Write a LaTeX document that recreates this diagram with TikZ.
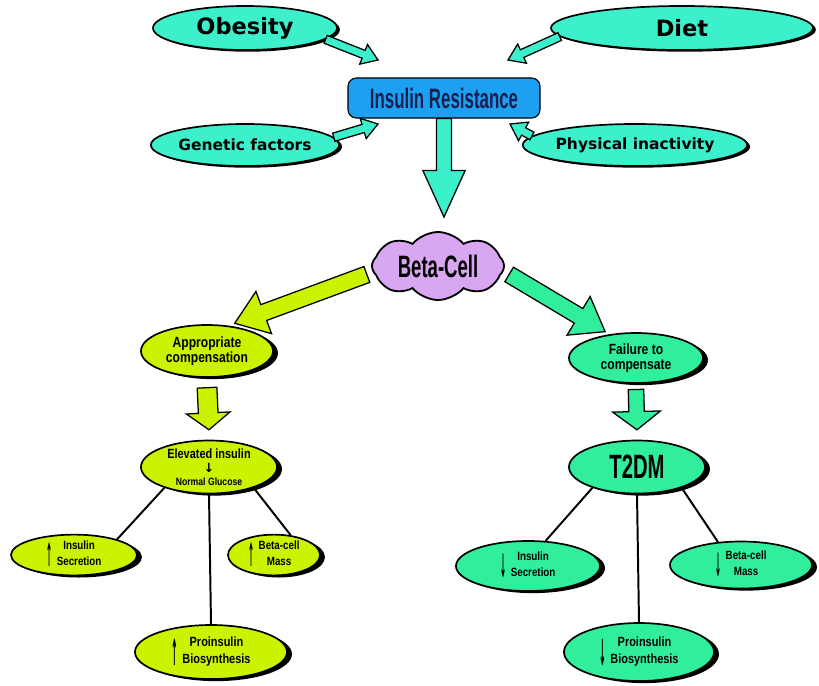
\documentclass[tikz,border=0pt]{standalone}
\usepackage{fontspec}
\usepackage{graphicx}
\setmainfont{Liberation Sans}
\newfontfamily\widefont{DejaVu Sans}
\newfontfamily\condfont[FakeStretch=0.6]{Liberation Sans}
\newfontfamily\semicondfont[FakeStretch=0.82]{Liberation Sans}
\usepackage{tikz}
\usetikzlibrary{shapes.geometric, shapes.symbols, arrows.meta, positioning, calc, shadows}

\definecolor{aquafill}{HTML}{3CF0CC}
\definecolor{skyfill}{HTML}{1EA0F2}
\definecolor{navytext}{HTML}{1A2050}
\definecolor{lilacfill}{HTML}{D9A6F2}
\definecolor{limefill}{HTML}{CCF200}
\definecolor{mintfill}{HTML}{30EE9C}

% block arrow: from, to, shaft half width, head half width, head length, fill
\newcommand{\fatarrow}[6]{%
  \coordinate (fa-h) at ($(#2)!#5!(#1)$);
  \filldraw[fill=#6, draw=black, line width=0.9pt, line join=miter]
    ($(#1)!#3!90:(#2)$) -- ($(fa-h)!#3!90:(#2)$) -- ($(fa-h)!#4!90:(#2)$)
    -- (#2) -- ($(fa-h)!#4!-90:(#2)$) -- ($(fa-h)!#3!-90:(#2)$)
    -- ($(#1)!#3!-90:(#2)$) -- cycle;
}

% two-line label with a tall thin arrow in front
\newcommand{\arrownote}[3]{\raisebox{-1.4ex}{\scalebox{0.6}[2.7]{\widefont #1}}\kern3pt%
  \begin{tabular}{@{}c@{}}#2\\[2.5pt]#3\end{tabular}}

\begin{document}
\begin{tikzpicture}[
    x=0.025cm, y=-0.025cm,
    factor/.style={ellipse, draw, line width=1.2pt, fill=aquafill, inner sep=0pt,
                   font=\widefont\bfseries,
                   drop shadow={shadow xshift=2pt, shadow yshift=-1.2pt, opacity=1, fill=black}},
    resist/.style={draw, line width=0.8pt, rounded corners=6pt, fill=skyfill,
                   minimum width=4.8cm, minimum height=1cm, text=navytext,
                   font=\condfont\bfseries\fontsize{20}{20}\selectfont},
    stage/.style={ellipse, draw, line width=1.2pt, inner sep=0pt, align=center,
                  font=\semicondfont\bfseries,
                  drop shadow={shadow xshift=3.5pt, shadow yshift=-1.5pt, opacity=1, fill=black}},
    link/.style={line width=1.4pt}
]
\useasboundingbox (0,0) rectangle (819,685);

% risk factors
\node[factor, minimum width=4.6cm, minimum height=1.1cm,
      font=\widefont\bfseries\fontsize{16}{18}\selectfont] (obesity) at (245,28) {Obesity};
\node[factor, minimum width=6.55cm, minimum height=1.1cm,
      font=\widefont\bfseries\fontsize{16}{18}\selectfont] (diet) at (682,28) {Diet};
\node[factor, minimum width=4.65cm, minimum height=1.05cm,
      font=\widefont\bfseries\fontsize{11}{13}\selectfont] (genetic) at (245,145) {Genetic factors};
\node[factor, minimum width=4.5cm, minimum height=1.05cm,
      font=\widefont\bfseries\fontsize{11}{13}\selectfont] (physical) at (635,145) {Physical inactivity};

\node[resist] (ir) at (444,98) {Insulin Resistance};

\node[cloud, cloud puffs=8, cloud puff arc=100, cloud ignores aspect, draw, line width=1.3pt,
      fill=lilacfill, minimum width=3.3cm, minimum height=1.7cm, inner sep=0pt,
      font=\condfont\bfseries\fontsize{22}{22}\selectfont] (beta) at (438,266) {Beta-Cell};

% two outcomes
\node[stage, fill=limefill, minimum width=3.3cm, minimum height=1.3cm,
      font=\semicondfont\bfseries\fontsize{10.5}{11}\selectfont] (approp) at (207,351)
      {Appropriate\\compensation};
\node[stage, fill=mintfill, minimum width=3.35cm, minimum height=1.25cm,
      font=\semicondfont\bfseries\fontsize{10.5}{11}\selectfont] (failure) at (636,358)
      {Failure to\\compensate};
\node[stage, fill=limefill, minimum width=3.4cm, minimum height=1.325cm,
      font=\semicondfont\bfseries\fontsize{9.5}{10}\selectfont] (elev) at (209,467)
      {Elevated insulin\\[0pt]{\widefont\bfseries\fontsize{9}{9}\selectfont ↓}\\[-1pt]%
       {\fontsize{7.5}{8}\selectfont Normal Glucose}};
\node[stage, fill=mintfill, minimum width=3.4cm, minimum height=1.325cm,
      font=\condfont\bfseries\fontsize{24}{24}\selectfont] (t2dm) at (637,467) {T2DM};

% beta-cell function, left
\node[stage, fill=limefill, minimum width=3.15cm, minimum height=1cm,
      font=\semicondfont\bfseries\fontsize{8.5}{9}\selectfont] (isecL) at (74,555)
      {\arrownote{↑}{Insulin}{Secretion}};
\node[stage, fill=limefill, minimum width=2.3cm, minimum height=1cm,
      font=\semicondfont\bfseries\fontsize{8.5}{9}\selectfont] (bmassL) at (274,555)
      {\arrownote{↑}{Beta-cell}{Mass}};
\node[stage, fill=limefill, minimum width=3.8cm, minimum height=1.35cm,
      font=\semicondfont\bfseries\fontsize{9.5}{10}\selectfont] (proL) at (211,652)
      {\arrownote{↑}{Proinsulin}{Biosynthesis}};

% beta-cell function, right
\node[stage, fill=mintfill, minimum width=3.6cm, minimum height=1.25cm,
      font=\semicondfont\bfseries\fontsize{8.5}{9}\selectfont] (isecR) at (528,566)
      {\arrownote{↓}{Insulin}{Secretion}};
\node[stage, fill=mintfill, minimum width=3.55cm, minimum height=1.175cm,
      font=\semicondfont\bfseries\fontsize{8.5}{9}\selectfont] (bmassR) at (741,565)
      {\arrownote{↓}{Beta-cell}{Mass}};
\node[stage, fill=mintfill, minimum width=3.75cm, minimum height=1.45cm,
      font=\semicondfont\bfseries\fontsize{9.5}{10}\selectfont] (proR) at (639,652)
      {\arrownote{↓}{Proinsulin}{Biosynthesis}};

% arrow ends
\coordinate (ob-tip)  at (378,60);
\coordinate (di-tip)  at (508,60);
\coordinate (ge-tip)  at (378,124);
\coordinate (ph-tip)  at (510,124);
\coordinate (ir-tip)  at (444,217);
\coordinate (yl-s)    at ([shift={(-3pt,-6pt)}]beta.west);
\coordinate (yl-tip)  at ([shift={(2pt,2pt)}]approp.45);
\coordinate (gr-s)    at ([shift={(3pt,-6pt)}]beta.east);
\coordinate (gr-tip)  at ([shift={(-2pt,2pt)}]failure.140);
\coordinate (ap-s)    at ([yshift=-7pt]approp.south);
\coordinate (ap-tip)  at ([yshift=7pt]elev.north);
\coordinate (fa-s)    at ([yshift=-4pt]failure.south);
\coordinate (fa-tip)  at ([yshift=7pt]t2dm.north);

\fatarrow{obesity.-8}{ob-tip}{3pt}{7.5pt}{11pt}{aquafill}
\fatarrow{diet.184}{di-tip}{3pt}{7.5pt}{11pt}{aquafill}
\fatarrow{genetic.5}{ge-tip}{3pt}{7.5pt}{11pt}{aquafill}
\fatarrow{physical.175}{ph-tip}{3pt}{7.5pt}{11pt}{aquafill}
\fatarrow{ir.south}{ir-tip}{5.3pt}{15pt}{33pt}{aquafill}
\fatarrow{yl-s}{yl-tip}{6pt}{16pt}{22pt}{limefill}
\fatarrow{gr-s}{gr-tip}{6pt}{16pt}{22pt}{mintfill}
\fatarrow{ap-s}{ap-tip}{7pt}{15.5pt}{12pt}{limefill}
\fatarrow{fa-s}{fa-tip}{5.5pt}{17pt}{13pt}{mintfill}

% links to beta-cell function
\draw[link] (elev.205) -- (isecL.20);
\draw[link] (elev.south) -- (proL.north);
\draw[link] (elev.335) -- (bmassL.50);
\draw[link] (t2dm.205) -- (isecR.55);
\draw[link] (t2dm.south) -- (proR.north);
\draw[link] (t2dm.335) -- (bmassR.135);
\end{tikzpicture}
\end{document}
